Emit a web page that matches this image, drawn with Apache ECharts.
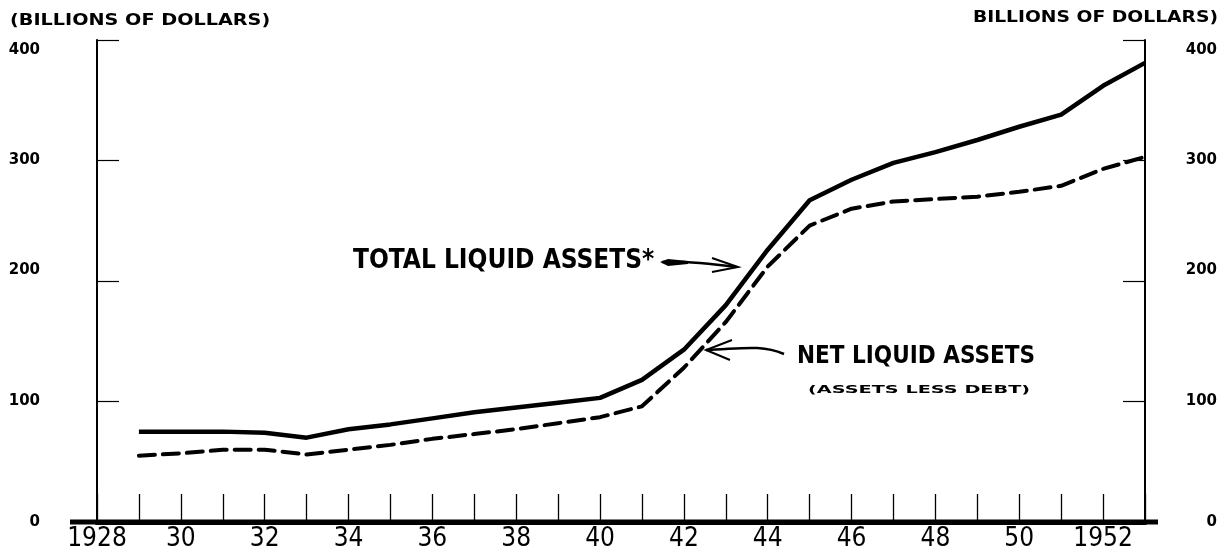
<!DOCTYPE html>
<html><head><meta charset="utf-8">
<script src="https://cdn.jsdelivr.net/npm/echarts@6/dist/echarts.min.js"></script>
<style>html,body{margin:0;padding:0;background:#fff}#c{width:1229px;height:555px}</style>
</head><body><div id="c"></div>
<script>
const years = [1929,1930,1931,1932,1933,1934,1935,1936,1937,1938,1939,1940,1941,1942,1943,1944,1945,1946,1947,1948,1949,1950,1951,1952,1953];
const totalLiquid = [75,75,75,74,70,77,81,86,91,95,99,103,118,143,180,226,267,284,298,307,317,328,338,362,381];
const netLiquid = [55,57,60,60,56,60,64,69,73,77,82,87,96,128,166,212,246,260,266,268,270,274,279,293,303];
const xLabels = {1928:'1928',1930:'30',1932:'32',1934:'34',1936:'36',1938:'38',1940:'40',1942:'42',1944:'44',1946:'46',1948:'48',1950:'50',1952:'1952'};

const narrow = "'Liberation Sans Narrow','DejaVu Sans Condensed',sans-serif";
const chart = echarts.init(document.getElementById('c'), null, {renderer:'canvas'});
const yLabelRich = {
  d0:{padding:[0,0,0,0]}, d400:{padding:[20,0,0,0]}, d200:{padding:[0,0,22,0]}, dn:{}
};
function yFmt(v){
  if(v===400) return '{d400|400}';
  if(v===200) return '{d200|200}';
  if(v===0) return '{d0|0}';
  return '{dn|'+v+'}';
}
const yLabelBase = {color:'#000',fontFamily:'DejaVu Sans',fontWeight:'bold',fontSize:15,formatter:yFmt,rich:yLabelRich};
const opt = {
  animation:false,
  backgroundColor:'#fff',
  grid:{left:97,right:84,top:40,bottom:33},
  xAxis:[{
    type:'value', min:1928, max:1953, interval:1,
    axisLine:{show:true,lineStyle:{color:'#000',width:5}},
    axisTick:{show:true,inside:true,length:28,lineStyle:{color:'#000',width:1.3}},
    axisLabel:{show:true,margin:4,color:'#000',fontFamily:narrow,fontSize:26,
      formatter:v=>xLabels[v]||''},
    splitLine:{show:false}
  },{
    type:'value', min:1928, max:1953, position:'top',
    axisLine:{show:true,lineStyle:{color:'#000',width:1.5}},
    axisTick:{show:false}, axisLabel:{show:false}, splitLine:{show:false}
  }],
  yAxis:[{
    type:'value', min:0, max:400, interval:100, position:'left',
    axisLine:{show:true,lineStyle:{color:'#000',width:2}},
    axisTick:{show:true,inside:true,length:22,lineStyle:{color:'#000',width:1.2}},
    axisLabel:Object.assign({margin:57},yLabelBase),
    splitLine:{show:false}
  },{
    type:'value', min:0, max:400, interval:100, position:'right',
    axisLine:{show:true,lineStyle:{color:'#000',width:2}},
    axisTick:{show:true,inside:true,length:22,lineStyle:{color:'#000',width:1.2}},
    axisLabel:Object.assign({margin:72,align:'right'},yLabelBase),
    splitLine:{show:false}
  }],
  series:[{
    name:'Total liquid assets', type:'line', xAxisIndex:0, yAxisIndex:0,
    data:years.map((y,i)=>[y,totalLiquid[i]]), showSymbol:false, symbol:'none',
    lineStyle:{color:'#000',width:4.5,join:'round'}
  },{
    name:'Net liquid assets', type:'line', xAxisIndex:0, yAxisIndex:0,
    data:years.map((y,i)=>[y,netLiquid[i]]), showSymbol:false, symbol:'none',
    lineStyle:{color:'#000',width:4,type:[16,8],cap:'round'}
  }],
  graphic:[
    {type:'text',x:10,y:13,scaleX:1.2,style:{text:'(BILLIONS OF DOLLARS)',fill:'#000',font:"bold 16px 'DejaVu Sans'",textAlign:'left',textVerticalAlign:'top'}},
    {type:'text',x:1218,y:10,scaleX:1.17,style:{text:'BILLIONS OF DOLLARS)',fill:'#000',font:"bold 16px 'DejaVu Sans'",textAlign:'right',textVerticalAlign:'top'}},
    {type:'text',x:353,y:261,style:{text:'TOTAL LIQUID ASSETS*',fill:'#000',font:"bold 26px "+narrow,textAlign:'left',textVerticalAlign:'middle'}},
    {type:'text',x:797,y:357,style:{text:'NET LIQUID ASSETS',fill:'#000',font:"bold 24px "+narrow,textAlign:'left',textVerticalAlign:'middle'}},
    {type:'text',x:808,y:390,scaleX:1.75,style:{text:'(ASSETS LESS DEBT)',fill:'#000',font:"bold 11px 'DejaVu Sans'",textAlign:'left',textVerticalAlign:'middle'}},
    {type:'bezierCurve',shape:{x1:662,y1:262,x2:736,y2:267,cpx1:690,cpy1:261},style:{stroke:'#000',lineWidth:2.5,fill:null}},
    {type:'polygon',shape:{points:[[660,262],[668,259],[688,261],[688,264],[668,266]]},style:{fill:'#000'}},
    {type:'polyline',shape:{points:[[712,258],[738,267],[712,272]]},style:{stroke:'#000',lineWidth:2,fill:null}},
    {type:'bezierCurve',shape:{x1:784,y1:354,x2:706,y2:350,cpx1:760,cpy1:344,cpx2:740,cpy2:349},style:{stroke:'#000',lineWidth:2.5,fill:null}},
    {type:'polyline',shape:{points:[[732,340],[706,350],[730,360]]},style:{stroke:'#000',lineWidth:2,fill:null}}
  ]
};
chart.setOption(opt);
// extend the heavy baseline slightly beyond the frame, as in the original
const p0 = chart.convertToPixel({xAxisIndex:0,yAxisIndex:0},[1928,0]);
const p1 = chart.convertToPixel({xAxisIndex:0,yAxisIndex:0},[1953,0]);
chart.setOption({graphic:opt.graphic.concat([
  {type:'line',shape:{x1:p0[0]-27,y1:p0[1],x2:p1[0]+13,y2:p1[1]},style:{stroke:'#000',lineWidth:5}}
])});
</script></body></html>
